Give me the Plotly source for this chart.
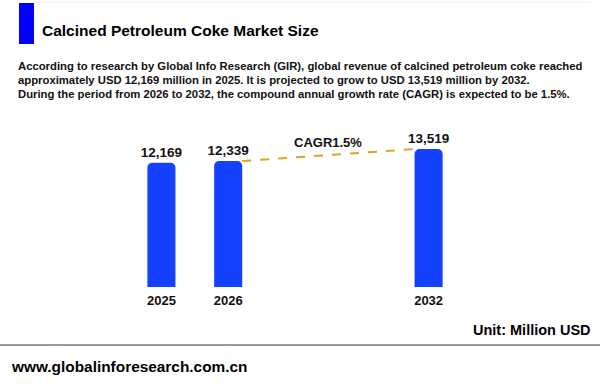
import plotly.graph_objects as go

years = ["2025", "2026", "2032"]
values = [12169, 12339, 13519]
value_labels = ["12,169", "12,339", "13,519"]
category_order = ["2025", "2026", " ", "  ", "2032"]
cagr_label = "CAGR1.5%"
title = "Calcined Petroleum Coke Market Size"
body_lines = [
    "According to research by Global Info Research (GIR), global revenue of calcined petroleum coke reached",
    "approximately USD 12,169 million in 2025. It is projected to grow to USD 13,519 million by 2032.",
    "During the period from 2026 to 2032, the compound annual growth rate (CAGR) is expected to be 1.5%.",
]
unit_text = "Unit: Million USD"
url_text = "www.globalinforesearch.com.cn"

W, H = 600, 384
FONT = "Liberation Sans, Arial, sans-serif"
BAR_W = 0.42

fig = go.Figure()
fig.add_trace(go.Bar(
    x=years, y=values, width=BAR_W,
    marker=dict(color="#1440FF", cornerradius=5, line=dict(width=0)),
    text=value_labels, textposition="outside", constraintext="none",
    textfont=dict(family=FONT, size=13.5, color="#111111", weight="bold"),
    cliponaxis=False, hoverinfo="skip",
))

# dashed CAGR line from top-right of 2026 bar to top-left of 2032 bar
i26 = category_order.index("2026")
i32 = category_order.index("2032")
fig.add_shape(type="line", xref="x", yref="y",
              x0=i26 + BAR_W / 2, y0=values[1], x1=i32 - BAR_W / 2, y1=values[2],
              line=dict(color="#E3A21A", width=2, dash="dash"))
fig.add_annotation(x=(i26 + i32) / 2, y=(values[1] + values[2]) / 2, xref="x", yref="y",
                   text="<b>" + cagr_label + "</b>", showarrow=False, yanchor="bottom", yshift=3,
                   font=dict(family=FONT, size=13, color="#111111"))

# header
fig.add_shape(type="rect", xref="paper", yref="paper",
              x0=19 / W, x1=34 / W, y0=1 - 44 / H, y1=1 - 3 / H,
              fillcolor="#0000FF", line=dict(width=0))
fig.add_shape(type="line", xref="paper", yref="paper",
              x0=35 / W, x1=590 / W, y0=1 - 2 / H, y1=1 - 2 / H,
              line=dict(color="#EEEEEE", width=1))
fig.add_annotation(x=40 / W, y=1 - 30 / H, xref="paper", yref="paper", xanchor="left", yanchor="middle",
                   text="<b>" + title + "</b>", showarrow=False,
                   font=dict(family=FONT, size=15.5, color="#000000"))
for k, line in enumerate(body_lines):
    fig.add_annotation(x=16 / W, y=1 - (66 + 14 * k) / H, xref="paper", yref="paper",
                       xanchor="left", yanchor="middle", text="<b>" + line + "</b>", showarrow=False,
                       font=dict(family=FONT, size=11.3, color="#111111"))

# footer
fig.add_annotation(x=593 / W, y=1 - 330 / H, xref="paper", yref="paper", xanchor="right", yanchor="middle",
                   text="<b>" + unit_text + "</b>", showarrow=False,
                   font=dict(family=FONT, size=14.5, color="#000000"))
fig.add_shape(type="line", xref="paper", yref="paper",
              x0=0, x1=1, y0=1 - 345 / H, y1=1 - 345 / H,
              line=dict(color="#9A9A9A", width=2))
fig.add_annotation(x=9 / W, y=1 - 366 / H, xref="paper", yref="paper", xanchor="left", yanchor="middle",
                   text="<b>" + url_text + "</b>", showarrow=False,
                   font=dict(family=FONT, size=15.4, color="#000000"))

top_px, bottom_px = 110, 287
ymax = values[2] * (bottom_px - top_px) / 138

fig.update_layout(
    width=W, height=H, margin=dict(l=0, r=0, t=0, b=0),
    paper_bgcolor="white", plot_bgcolor="white", showlegend=False,
    xaxis=dict(domain=[128 / W, 462 / W], type="category", categoryorder="array",
               categoryarray=category_order, range=[-0.5, 4.5],
               showgrid=False, showline=False, zeroline=False, ticks="", ticklabelstandoff=4,
               tickfont=dict(family=FONT, size=13, color="#111111", weight="bold")),
    yaxis=dict(domain=[1 - bottom_px / H, 1 - top_px / H], range=[0, ymax],
               visible=False, showgrid=False, zeroline=False),
)

fig.write_html("out.html", config={"displayModeBar": False},
               post_script="document.body.style.margin='0';")
